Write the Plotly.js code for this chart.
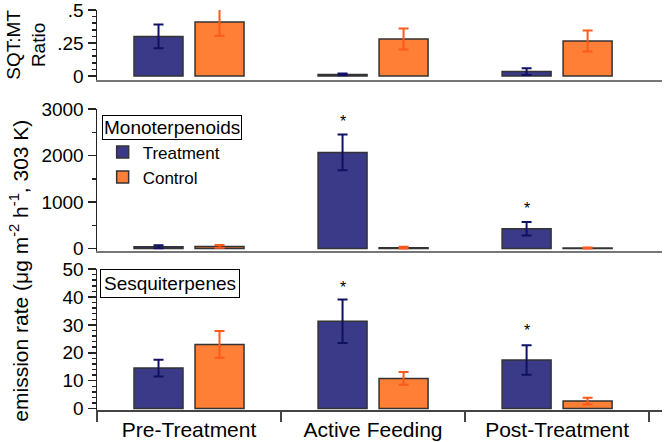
<!DOCTYPE html>
<html>
<head>
<meta charset="utf-8">
<script src="https://cdn.plot.ly/plotly-3.0.1.min.js"></script>
<style>
  html, body { margin: 0; padding: 0; background: #fff; }
  #myDiv { width: 666px; height: 442px; }
</style>
</head>
<body>
<div id="myDiv"></div>
<script>
var categories = ['Pre-Treatment', 'Active Feeding', 'Post-Treatment'];

// SQT:MT ratio
var ratioTrt = [0.30, 0.012, 0.033];
var ratioTrtErr = [0.09, 0.006, 0.025];
var ratioCtl = [0.41, 0.28, 0.265];
var ratioCtlErr = [0.105, 0.08, 0.08];

// monoterpenoids
var monoTrt = [38, 2067, 423];
var monoTrtErr = [30, 383, 145];
var monoCtl = [45, 18, 10];
var monoCtlErr = [30, 20, 10];
var monoStars = [null, 2813, 954];

// sesquiterpenes
var sesqTrt = [14.5, 31.3, 17.4];
var sesqTrtErr = [3.0, 7.8, 5.3];
var sesqCtl = [23.0, 10.8, 2.7];
var sesqCtlErr = [4.8, 2.3, 1.2];
var sesqStars = [null, 44.8, 29.3];

var trtColor = 'rgb(58, 58, 136)';
var ctlColor = 'rgb(255, 127, 54)';
var trtErrColor = 'rgb(16, 16, 100)';
var ctlErrColor = 'rgb(255, 90, 26)';

function bars(y, err, name, color, errColor, xa, ya, show) {
    return {
        type: 'bar',
        x: categories,
        y: y,
        name: name,
        xaxis: xa,
        yaxis: ya,
        showlegend: show,
        marker: { color: color, line: { color: '#333', width: 1.5 } },
        error_y: { type: 'data', array: err, color: errColor, thickness: 2, width: 5 }
    };
}

var data = [
    bars(ratioTrt, ratioTrtErr, 'Treatment', trtColor, trtErrColor, 'x3', 'y3', false),
    bars(ratioCtl, ratioCtlErr, 'Control', ctlColor, ctlErrColor, 'x3', 'y3', false),
    bars(monoTrt, monoTrtErr, 'Treatment', trtColor, trtErrColor, 'x2', 'y2', true),
    bars(monoCtl, monoCtlErr, 'Control', ctlColor, ctlErrColor, 'x2', 'y2', true),
    bars(sesqTrt, sesqTrtErr, 'Treatment', trtColor, trtErrColor, 'x', 'y', false),
    bars(sesqCtl, sesqCtlErr, 'Control', ctlColor, ctlErrColor, 'x', 'y', false)
];

var annotations = [];
function stars(vals, xref, yref) {
    vals.forEach(function (v, i) {
        if (v === null) return;
        annotations.push({
            x: categories[i], y: v, xref: xref, yref: yref,
            text: '*', showarrow: false, xshift: -30.5, yshift: -4,
            font: { size: 16, color: '#000' }
        });
    });
}
stars(monoStars, 'x2', 'y2');
stars(sesqStars, 'x', 'y');

annotations.push({
    xref: 'paper', yref: 'paper', x: 0.009, y: 0.731, xanchor: 'left', yanchor: 'top',
    text: 'Monoterpenoids', showarrow: false, bordercolor: '#000', borderwidth: 1,
    borderpad: 1, bgcolor: '#fff', font: { size: 19, color: '#000' }
});
annotations.push({
    xref: 'paper', yref: 'paper', x: 0.005, y: 0.35, xanchor: 'left', yanchor: 'top',
    text: 'Sesquiterpenes', showarrow: false, bordercolor: '#000', borderwidth: 1,
    borderpad: 3, bgcolor: '#fff', font: { size: 19, color: '#000' }
});
annotations.push({
    xref: 'paper', yref: 'paper', x: -0.138, y: 0.345, xanchor: 'center', yanchor: 'middle',
    text: 'emission rate (μg m<sup>-2</sup> h<sup>-1</sup>, 303 K)', textangle: -90,
    showarrow: false, font: { size: 21, color: '#000' }
});
annotations.push({
    xref: 'paper', yref: 'paper', x: -0.125, y: 0.905, xanchor: 'center', yanchor: 'middle',
    text: 'SQT:MT<br>Ratio', textangle: -90,
    showarrow: false, font: { size: 19, color: '#000' }
});

var xRange = [-0.5, 2.57];
var tickFont = { size: 19, color: '#000' };

function yax(domain, range, extra) {
    var a = {
        domain: domain, range: range, showgrid: false, zeroline: false,
        showline: true, linecolor: '#222', linewidth: 1.5,
        ticks: 'outside', ticklen: 8, tickwidth: 1.5, tickcolor: '#222',
        tickfont: tickFont, ticklabeloverflow: 'allow'
    };
    for (var k in extra) a[k] = extra[k];
    return a;
}

var layout = {
    width: 666,
    height: 442,
    margin: { l: 97, r: 4, t: 6, b: 32 },
    paper_bgcolor: '#fff',
    plot_bgcolor: '#fff',
    font: { family: 'Liberation Sans, Arial, sans-serif', color: '#000' },
    barmode: 'group',
    bargap: 0.337,
    bargroupgap: 0.197,
    showlegend: true,
    legend: {
        x: 0.01, y: 0.682, xanchor: 'left', yanchor: 'top',
        bgcolor: 'rgba(0,0,0,0)', font: { size: 17 }, traceorder: 'normal'
    },
    xaxis: {
        anchor: 'y', range: xRange, type: 'category', showgrid: false,
        showline: true, linecolor: '#444', linewidth: 2,
        ticks: 'outside', tickson: 'boundaries', ticklen: 10, tickwidth: 1.5,
        tickcolor: '#444', tickfont: { size: 21, color: '#000' }
    },
    xaxis2: {
        anchor: 'y2', range: xRange, type: 'category', matches: 'x', showgrid: false,
        showline: true, linecolor: '#777', linewidth: 2, showticklabels: false, ticks: ''
    },
    xaxis3: {
        anchor: 'y3', range: xRange, type: 'category', matches: 'x', showgrid: false,
        showline: true, linecolor: '#777', linewidth: 2, showticklabels: false, ticks: ''
    },
    yaxis: yax([0, 0.349], [-0.5, 50], {
        tickvals: [0, 10, 20, 30, 40, 50],
        minor: { dtick: 2, tick0: 0, ticks: 'outside', ticklen: 4, tickcolor: '#222' }
    }),
    yaxis2: yax([0.394, 0.745], [-50, 3000], {
        tickvals: [0, 1000, 2000, 3000],
        minor: { dtick: 500, tick0: 0, ticks: 'outside', ticklen: 4, tickcolor: '#222' }
    }),
    yaxis3: yax([0.817, 0.99], [-0.03, 0.5], {
        tickvals: [0, 0.25, 0.5], ticktext: ['0', '.25', '.5'],
        minor: { dtick: 0.05, tick0: 0, ticks: 'outside', ticklen: 4, tickcolor: '#222' }
    }),
    annotations: annotations
};

Plotly.newPlot('myDiv', data, layout, { displayModeBar: false, staticPlot: true });
</script>
</body>
</html>
